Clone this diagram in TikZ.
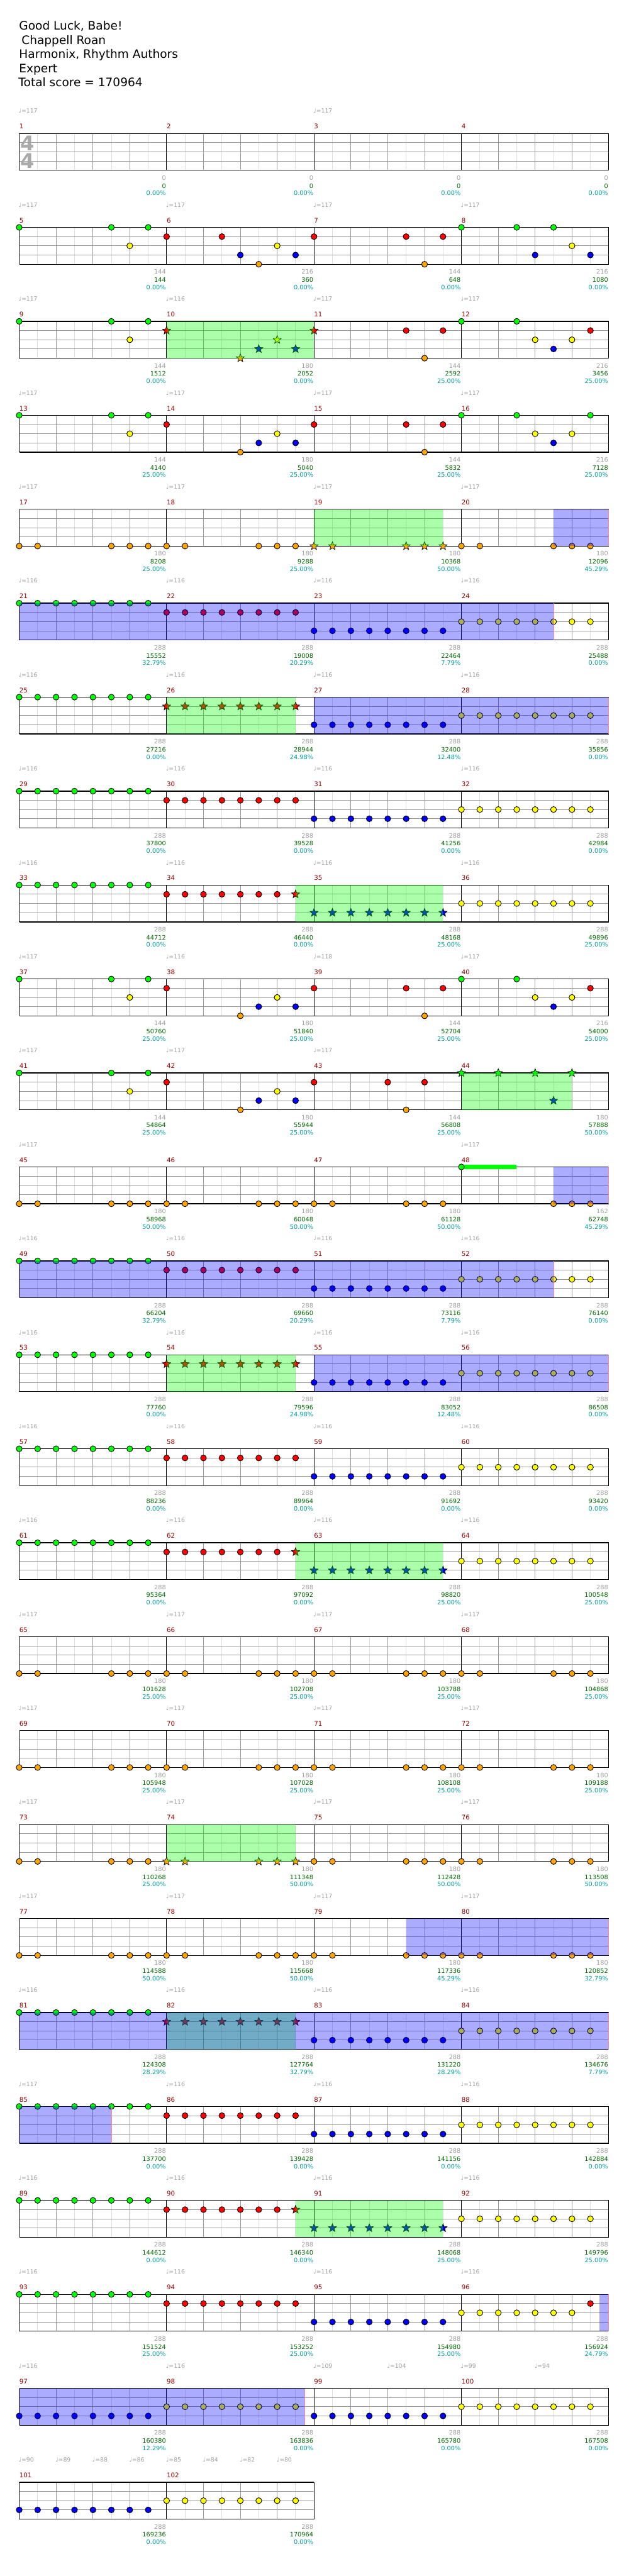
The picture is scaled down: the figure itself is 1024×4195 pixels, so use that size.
\documentclass[tikz,border=0pt]{standalone}
\usepackage{fontspec}
\setmainfont{DejaVu Sans}
\usetikzlibrary{shapes.geometric}
\definecolor{L0}{RGB}{0,255,0}
\definecolor{L1}{RGB}{255,0,0}
\definecolor{L2}{RGB}{255,255,0}
\definecolor{L3}{RGB}{0,0,255}
\definecolor{L4}{RGB}{255,165,0}
\definecolor{gridM}{RGB}{153,153,153}
\definecolor{gridL}{RGB}{222,222,222}
\definecolor{mnumc}{RGB}{150,0,0}
\definecolor{lgray}{RGB}{160,160,160}
\definecolor{lgreen}{RGB}{0,105,0}
\definecolor{lcyan}{RGB}{0,155,155}
\definecolor{spg}{RGB}{0,255,0}
\definecolor{odb}{RGB}{0,0,255}
\definecolor{salmon}{RGB}{255,140,140}
\definecolor{tsg}{RGB}{170,170,170}
\tikzset{
 gl/.style={draw=gridL,line width=1pt},
 gm/.style={draw=gridM,line width=1pt},
 gk/.style={draw=black,line width=1pt},
 notec/.style={draw=black,line width=0.9pt},
 starn/.style={star,star points=5,star point ratio=2.3,minimum size=14pt,inner sep=0pt,draw=black,line width=0.7pt},
 labg/.style={anchor=base east,inner sep=0pt,font=\fontsize{10}{10}\selectfont,text=lgray},
 labn/.style={anchor=base east,inner sep=0pt,font=\fontsize{10}{10}\selectfont,text=lgreen},
 labc/.style={anchor=base east,inner sep=0pt,font=\fontsize{10}{10}\selectfont,text=lcyan},
 tempo/.style={anchor=base west,inner sep=0pt,font=\fontsize{9.5}{10}\selectfont,text=lgray},
 mn/.style={anchor=base west,inner sep=0pt,font=\fontsize{10.5}{11}\selectfont,text=mnumc},
 ttl/.style={anchor=base west,inner sep=0pt,font=\fontsize{19}{20}\selectfont,text=black},
 tsig/.style={inner sep=0pt,font=\fontsize{33}{33}\selectfont\bfseries,text=tsg},
}
\newcommand\getxy[3]{%
 \pgfmathtruncatemacro\myR{(#1-1)/4}%
 \pgfmathtruncatemacro\myC{#1-1-4*\myR}%
 \pgfmathsetmacro\nx{31.3+240*\myC+30*(#2)}%
 \pgfmathsetmacro\ny{217.3+153*\myR+15*(#3)}%
}
\newcommand\nts[3]{\foreach \p in {#3}{\getxy{#1}{\p}{#2}\filldraw[notec,fill=L#2] (\nx,\ny) circle (4.8pt);}}
\newcommand\sts[3]{\foreach \p in {#3}{\getxy{#1}{\p}{#2}\node[starn,fill=L#2] (s#1x#2x\p) at (\nx,\ny) {};}}
\newcommand\zone[5]{%
 \getxy{#2}{#3}{0}\let\xa\nx\let\ya\ny
 \getxy{#4}{#5}{4}\let\xb\nx\let\yb\ny
 \fill[#1,opacity=0.33] (\xa,\ya) rectangle (\xb,\yb);}
\newcommand\gz[4]{\zone{spg}{#1}{#2}{#3}{#4}}
\newcommand\bz[4]{\zone{odb}{#1}{#2}{#3}{#4}\draw[salmon,line width=1pt] (\xb,\ya) -- (\xb,\yb);}
\newcommand\sus[4]{\getxy{#1}{#2}{#3}\let\xa\nx\let\ya\ny\getxy{#1}{#4}{#3}\fill[L#3] (\xa,\ya-3.5) rectangle (\nx,\ya+3.5);}
\newcommand\lab[4]{\getxy{#1}{8}{4}%
 \node[labg] (g#1) at (\nx-1,\ny+16) {#2};
 \node[labn] (n#1) at (\nx-1,\ny+29) {#3};
 \node[labc] (c#1) at (\nx-1,\ny+41) {#4\%};}
\newcommand\tmp[2]{\getxy{#1}{0}{0}\node[tempo] (t#1) at (\nx-1,\ny-33) {♩=#2};}
\newcommand\tmpp[3]{\getxy{#1}{#2}{0}\node[tempo] (t#1x#2) at (\nx-1,\ny-33) {♩=#3};}
\newcommand\staffrow[2]{%
 \pgfmathsetmacro\yt{217.3+153*#1}%
 \pgfmathsetmacro\ybt{\yt+60}%
 \pgfmathsetmacro\xe{31.3+240*#2}%
 \pgfmathtruncatemacro\ne{8*#2-1}%
 \pgfmathtruncatemacro\nf{8*#2-2}%
 \foreach \i in {1,3,...,\ne}{\draw[gl] ({31.3+30*\i},\yt) -- ({31.3+30*\i},\ybt);}%
 \foreach \i in {2,4,...,\nf}{\draw[gm] ({31.3+30*\i},\yt) -- ({31.3+30*\i},\ybt);}%
 \foreach \l in {15,30,45}{\draw[gm] (31.3,\yt+\l) -- (\xe,\yt+\l);}%
 \foreach \j in {0,...,#2}{\draw[gk] ({31.3+240*\j},\yt) -- ({31.3+240*\j},\ybt);}%
 \draw[gk,line width=1.3pt] (31.3,\yt) -- (\xe,\yt) (31.3,\ybt) -- (\xe,\ybt);%
}
\begin{document}
\begin{tikzpicture}[x=1pt,y=-1pt]
\useasboundingbox (0,0) rectangle (1024,4195);
\fill[white] (0,0) rectangle (1024,4195);
% header
\node[ttl] (h1) at (31,49) {Good Luck, Babe!};
\node[ttl] (h2) at (31,72) {\hspace{4pt}Chappell Roan};
\node[ttl] (h3) at (31,95) {Harmonix, Rhythm Authors};
\node[ttl] (h4) at (31,118) {Expert};
\node[ttl] (h5) at (30,141) {Total score = 170964};
% staves
\foreach \r in {0,...,24}{\staffrow{\r}{4}}
\staffrow{25}{2}
\node[tsig] (ts1) at (44.5,233) {4};
\node[tsig] (ts2) at (44.5,262) {4};
\foreach \m in {1,...,102}{\getxy{\m}{0}{0}\node[mn] (m\m) at (\nx,\ny-7.5) {\m};}
% ---- row 0
\tmp{1}{117}\tmp{3}{117}
\lab{1}{0}{0}{0.00}\lab{2}{0}{0}{0.00}\lab{3}{0}{0}{0.00}\lab{4}{0}{0}{0.00}
% ---- row 1
\tmp{5}{117}\tmp{6}{117}\tmp{7}{117}\tmp{8}{117}
\nts{5}{0}{0,5,7}\nts{5}{2}{6}
\nts{6}{1}{0,3}\nts{6}{3}{4,7}\nts{6}{4}{5}\nts{6}{2}{6}
\nts{7}{1}{0,5,7}\nts{7}{4}{6}
\nts{8}{0}{0,3,5}\nts{8}{3}{4,7}\nts{8}{2}{6}
\lab{5}{144}{144}{0.00}\lab{6}{216}{360}{0.00}\lab{7}{144}{648}{0.00}\lab{8}{216}{1080}{0.00}
% ---- row 2
\tmp{9}{117}\tmp{10}{116}\tmp{11}{117}\tmp{12}{117}
\nts{9}{0}{0,5,7}\nts{9}{2}{6}
\sts{10}{1}{0}\sts{10}{4}{4}\sts{10}{3}{5,7}\sts{10}{2}{6}
\sts{11}{1}{0}\nts{11}{1}{5,7}\nts{11}{4}{6}
\nts{12}{0}{0,3}\nts{12}{2}{4,6}\nts{12}{3}{5}\nts{12}{1}{7}
\gz{10}{0}{11}{0}
\lab{9}{144}{1512}{0.00}\lab{10}{180}{2052}{0.00}\lab{11}{144}{2592}{25.00}\lab{12}{216}{3456}{25.00}
% ---- row 3
\tmp{13}{117}\tmp{14}{117}\tmp{15}{117}\tmp{16}{117}
\nts{13}{0}{0,5,7}\nts{13}{2}{6}
\nts{14}{1}{0}\nts{14}{4}{4}\nts{14}{3}{5,7}\nts{14}{2}{6}
\nts{15}{1}{0,5,7}\nts{15}{4}{6}
\nts{16}{0}{0,3,7}\nts{16}{2}{4,6}\nts{16}{3}{5}
\lab{13}{144}{4140}{25.00}\lab{14}{180}{5040}{25.00}\lab{15}{144}{5832}{25.00}\lab{16}{216}{7128}{25.00}
% ---- row 4
\tmp{17}{117}\tmp{18}{117}\tmp{19}{117}\tmp{20}{117}
\nts{17}{4}{0,1,5,6,7}\nts{18}{4}{0,1,5,6,7}\sts{19}{4}{0,1,5,6,7}\nts{20}{4}{0,1,5,6,7}
\gz{19}{0}{19}{7}\bz{20}{5}{20}{8}
\lab{17}{180}{8208}{25.00}\lab{18}{180}{9288}{25.00}\lab{19}{180}{10368}{50.00}\lab{20}{180}{12096}{45.29}
% ---- row 5
\tmp{21}{116}\tmp{22}{116}\tmp{23}{116}\tmp{24}{116}
\nts{21}{0}{0,...,7}\nts{22}{1}{0,...,7}\nts{23}{3}{0,...,7}\nts{24}{2}{0,...,7}
\bz{21}{0}{24}{5}
\lab{21}{288}{15552}{32.79}\lab{22}{288}{19008}{20.29}\lab{23}{288}{22464}{7.79}\lab{24}{288}{25488}{0.00}
% ---- row 6
\tmp{25}{116}\tmp{26}{116}\tmp{27}{116}\tmp{28}{116}
\nts{25}{0}{0,...,7}\sts{26}{1}{0,...,7}\nts{27}{3}{0,...,7}\nts{28}{2}{0,...,7}
\gz{26}{0}{26}{7}\bz{27}{0}{28}{8}
\lab{25}{288}{27216}{0.00}\lab{26}{288}{28944}{24.98}\lab{27}{288}{32400}{12.48}\lab{28}{288}{35856}{0.00}
% ---- row 7
\tmp{29}{116}\tmp{30}{116}\tmp{31}{116}\tmp{32}{116}
\nts{29}{0}{0,...,7}\nts{30}{1}{0,...,7}\nts{31}{3}{0,...,7}\nts{32}{2}{0,...,7}
\lab{29}{288}{37800}{0.00}\lab{30}{288}{39528}{0.00}\lab{31}{288}{41256}{0.00}\lab{32}{288}{42984}{0.00}
% ---- row 8
\tmp{33}{116}\tmp{34}{116}\tmp{35}{116}\tmp{36}{116}
\nts{33}{0}{0,...,7}\nts{34}{1}{0,...,6}\sts{34}{1}{7}\sts{35}{3}{0,...,7}\nts{36}{2}{0,...,7}
\gz{34}{7}{35}{7}
\lab{33}{288}{44712}{0.00}\lab{34}{288}{46440}{0.00}\lab{35}{288}{48168}{25.00}\lab{36}{288}{49896}{25.00}
% ---- row 9
\tmp{37}{117}\tmp{38}{116}\tmp{39}{118}\tmp{40}{117}
\nts{37}{0}{0,5,7}\nts{37}{2}{6}
\nts{38}{1}{0}\nts{38}{4}{4}\nts{38}{3}{5,7}\nts{38}{2}{6}
\nts{39}{1}{0,5,7}\nts{39}{4}{6}
\nts{40}{0}{0,3}\nts{40}{2}{4,6}\nts{40}{3}{5}\nts{40}{1}{7}
\lab{37}{144}{50760}{25.00}\lab{38}{180}{51840}{25.00}\lab{39}{144}{52704}{25.00}\lab{40}{216}{54000}{25.00}
% ---- row 10
\tmp{41}{117}\tmp{42}{117}\tmp{43}{117}
\nts{41}{0}{0,5,7}\nts{41}{2}{6}
\nts{42}{1}{0}\nts{42}{4}{4}\nts{42}{3}{5,7}\nts{42}{2}{6}
\nts{43}{1}{0,4,6}\nts{43}{4}{5}
\sts{44}{0}{0,2,4,6}\sts{44}{3}{5}
\gz{44}{0}{44}{6}
\lab{41}{144}{54864}{25.00}\lab{42}{180}{55944}{25.00}\lab{43}{144}{56808}{25.00}\lab{44}{180}{57888}{50.00}
% ---- row 11
\tmp{45}{117}\tmp{48}{117}
\nts{45}{4}{0,1,5,6,7}\nts{46}{4}{0,1,5,6,7}\nts{47}{4}{0,1,5,6,7}
\sus{48}{0}{0}{3}\nts{48}{0}{0}\nts{48}{4}{5,6,7}
\bz{48}{5}{48}{8}
\lab{45}{180}{58968}{50.00}\lab{46}{180}{60048}{50.00}\lab{47}{180}{61128}{50.00}\lab{48}{162}{62748}{45.29}
% ---- row 12
\tmp{49}{116}\tmp{50}{116}\tmp{51}{116}\tmp{52}{116}
\nts{49}{0}{0,...,7}\nts{50}{1}{0,...,7}\nts{51}{3}{0,...,7}\nts{52}{2}{0,...,7}
\bz{49}{0}{52}{5}
\lab{49}{288}{66204}{32.79}\lab{50}{288}{69660}{20.29}\lab{51}{288}{73116}{7.79}\lab{52}{288}{76140}{0.00}
% ---- row 13
\tmp{53}{116}\tmp{54}{116}\tmp{55}{116}\tmp{56}{116}
\nts{53}{0}{0,...,7}\sts{54}{1}{0,...,7}\nts{55}{3}{0,...,7}\nts{56}{2}{0,...,7}
\gz{54}{0}{54}{7}\bz{55}{0}{56}{8}
\lab{53}{288}{77760}{0.00}\lab{54}{288}{79596}{24.98}\lab{55}{288}{83052}{12.48}\lab{56}{288}{86508}{0.00}
% ---- row 14
\tmp{57}{116}\tmp{58}{116}\tmp{59}{116}\tmp{60}{116}
\nts{57}{0}{0,...,7}\nts{58}{1}{0,...,7}\nts{59}{3}{0,...,7}\nts{60}{2}{0,...,7}
\lab{57}{288}{88236}{0.00}\lab{58}{288}{89964}{0.00}\lab{59}{288}{91692}{0.00}\lab{60}{288}{93420}{0.00}
% ---- row 15
\tmp{61}{116}\tmp{62}{116}\tmp{63}{116}\tmp{64}{116}
\nts{61}{0}{0,...,7}\nts{62}{1}{0,...,6}\sts{62}{1}{7}\sts{63}{3}{0,...,7}\nts{64}{2}{0,...,7}
\gz{62}{7}{63}{7}
\lab{61}{288}{95364}{0.00}\lab{62}{288}{97092}{0.00}\lab{63}{288}{98820}{25.00}\lab{64}{288}{100548}{25.00}
% ---- row 16
\tmp{65}{117}\tmp{66}{117}\tmp{67}{117}\tmp{68}{117}
\nts{65}{4}{0,1,5,6,7}\nts{66}{4}{0,1,5,6,7}\nts{67}{4}{0,1,5,6,7}\nts{68}{4}{0,1,5,6,7}
\lab{65}{180}{101628}{25.00}\lab{66}{180}{102708}{25.00}\lab{67}{180}{103788}{25.00}\lab{68}{180}{104868}{25.00}
% ---- row 17
\tmp{69}{117}\tmp{70}{117}\tmp{71}{117}\tmp{72}{117}
\nts{69}{4}{0,1,5,6,7}\nts{70}{4}{0,1,5,6,7}\nts{71}{4}{0,1,5,6,7}\nts{72}{4}{0,1,5,6,7}
\lab{69}{180}{105948}{25.00}\lab{70}{180}{107028}{25.00}\lab{71}{180}{108108}{25.00}\lab{72}{180}{109188}{25.00}
% ---- row 18
\tmp{73}{117}\tmp{74}{117}\tmp{75}{117}\tmp{76}{117}
\nts{73}{4}{0,1,5,6,7}\sts{74}{4}{0,1,5,6,7}\nts{75}{4}{0,1,5,6,7}\nts{76}{4}{0,1,5,6,7}
\gz{74}{0}{74}{7}
\lab{73}{180}{110268}{25.00}\lab{74}{180}{111348}{50.00}\lab{75}{180}{112428}{50.00}\lab{76}{180}{113508}{50.00}
% ---- row 19
\tmp{77}{117}\tmp{78}{117}\tmp{79}{117}\tmp{80}{117}
\nts{77}{4}{0,1,5,6,7}\nts{78}{4}{0,1,5,6,7}\nts{79}{4}{0,1,5,6,7}\nts{80}{4}{0,1,5,6,7}
\bz{79}{5}{80}{8}
\lab{77}{180}{114588}{50.00}\lab{78}{180}{115668}{50.00}\lab{79}{180}{117336}{45.29}\lab{80}{180}{120852}{32.79}
% ---- row 20
\tmp{81}{116}\tmp{82}{116}\tmp{83}{116}\tmp{84}{116}
\nts{81}{0}{0,...,7}\sts{82}{1}{0,...,7}\nts{83}{3}{0,...,7}\nts{84}{2}{0,...,7}
\gz{82}{0}{82}{7}\bz{81}{0}{84}{8}
\lab{81}{288}{124308}{28.29}\lab{82}{288}{127764}{32.79}\lab{83}{288}{131220}{28.29}\lab{84}{288}{134676}{7.79}
% ---- row 21
\tmp{85}{117}\tmp{86}{116}\tmp{87}{116}\tmp{88}{116}
\nts{85}{0}{0,...,7}\nts{86}{1}{0,...,7}\nts{87}{3}{0,...,7}\nts{88}{2}{0,...,7}
\bz{85}{0}{85}{5}
\lab{85}{288}{137700}{0.00}\lab{86}{288}{139428}{0.00}\lab{87}{288}{141156}{0.00}\lab{88}{288}{142884}{0.00}
% ---- row 22
\tmp{89}{116}\tmp{90}{116}\tmp{91}{116}\tmp{92}{116}
\nts{89}{0}{0,...,7}\nts{90}{1}{0,...,6}\sts{90}{1}{7}\sts{91}{3}{0,...,7}\nts{92}{2}{0,...,7}
\gz{90}{7}{91}{7}
\lab{89}{288}{144612}{0.00}\lab{90}{288}{146340}{0.00}\lab{91}{288}{148068}{25.00}\lab{92}{288}{149796}{25.00}
% ---- row 23
\tmp{93}{116}\tmp{94}{116}\tmp{95}{116}\tmp{96}{116}
\nts{93}{0}{0,...,7}\nts{94}{1}{0,...,7}\nts{95}{3}{0,...,7}\nts{96}{2}{0,...,6}\nts{96}{1}{7}
\bz{96}{7.5}{96}{8}
\lab{93}{288}{151524}{25.00}\lab{94}{288}{153252}{25.00}\lab{95}{288}{154980}{25.00}\lab{96}{288}{156924}{24.79}
% ---- row 24
\tmp{97}{116}\tmp{98}{116}\tmpp{99}{0}{109}\tmpp{99}{4}{104}\tmpp{100}{0}{99}\tmpp{100}{4}{94}
\nts{97}{3}{0,...,7}\nts{98}{2}{0,...,7}\nts{99}{3}{0,...,7}\nts{100}{2}{0,...,7}
\bz{97}{0}{98}{7.5}
\lab{97}{288}{160380}{12.29}\lab{98}{288}{163836}{0.00}\lab{99}{288}{165780}{0.00}\lab{100}{288}{167508}{0.00}
% ---- row 25
\tmpp{101}{0}{90}\tmpp{101}{2}{89}\tmpp{101}{4}{88}\tmpp{101}{6}{86}
\tmpp{102}{0}{85}\tmpp{102}{2}{84}\tmpp{102}{4}{82}\tmpp{102}{6}{80}
\nts{101}{3}{0,...,7}\nts{102}{2}{0,...,7}
\lab{101}{288}{169236}{0.00}\lab{102}{288}{170964}{0.00}
\end{tikzpicture}
\end{document}
